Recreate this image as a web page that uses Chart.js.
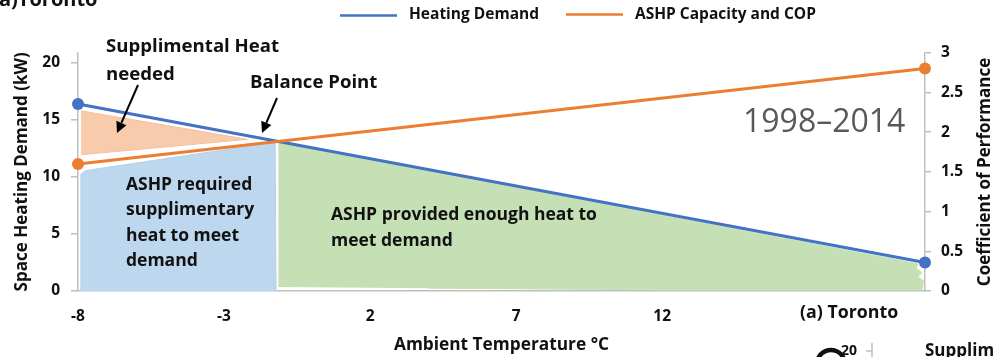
<!DOCTYPE html>
<html>
<head>
<meta charset="utf-8">
<script src="https://cdn.jsdelivr.net/npm/chart.js@4.4.1/dist/chart.umd.min.js"></script>
<style>
  html, body { margin: 0; padding: 0; background: #fff; overflow: hidden; }
  canvas { display: block; }
</style>
</head>
<body>
<canvas id="chart" width="994" height="357"></canvas>
<script>
// Line end points (ambient temperature in °C)
const temperatureEnds = [-8, 21];
const heatingDemand = [16.4, 2.5];   // kW, left axis
const ashpCop = [1.6, 2.8];          // coefficient of performance, right axis
const xTickValues = [-8, -3, 2, 7, 12];
const demandTicks = [0, 5, 10, 15, 20];
const copTicks = [0, 0.5, 1, 1.5, 2, 2.5, 3];

// Shaded zones as [temperature, kW] outlines
const supplementalZone = [[-7.9, 15.8], [-2.2, 13.3], [-7.9, 11.95]];
const requiredZone = [[-7.9, 0], [-7.9, 10.25], [-7.75, 10.55], [-7.5, 10.65], [-1.25, 13.05], [-1.22, 0]];
const providedZone = [[-1.12, 0.35], [-1.12, 13.0], [20.75, 2.4], [20.7, 2.0], [20.9, 1.6],
                      [20.75, 1.25], [20.95, 0.9], [20.9, 0.1], [12, 0.1], [4, 0.25]];

const GREY_AXIS = '#BFBFBF';
const FONT = "'Open Sans', 'DejaVu Sans', sans-serif";

const toPoints = (xs, ys) => xs.map((x, i) => ({ x, y: ys[i] }));
const zonePoints = zone => zone.map(([x, y]) => ({ x, y }));

function zoneDataset(zone, fillColor, edgeColor) {
  return {
    label: '',
    data: zonePoints(zone),
    yAxisID: 'y',
    borderColor: edgeColor,
    borderWidth: 1,
    backgroundColor: fillColor,
    fill: 'shape',
    pointRadius: 0,
    tension: 0,
    order: 5,
    clip: false
  };
}

function drawArrow(ctx, x1, y1, x2, y2) {
  const a = Math.atan2(y2 - y1, x2 - x1);
  const head = 11, half = 5.5;
  const bx = x2 - head * Math.cos(a), by = y2 - head * Math.sin(a);
  ctx.strokeStyle = '#000';
  ctx.fillStyle = '#000';
  ctx.lineWidth = 2;
  ctx.beginPath();
  ctx.moveTo(x1, y1);
  ctx.lineTo(bx, by);
  ctx.stroke();
  ctx.beginPath();
  ctx.moveTo(x2, y2);
  ctx.lineTo(bx + half * Math.sin(a), by - half * Math.cos(a));
  ctx.lineTo(bx - half * Math.sin(a), by + half * Math.cos(a));
  ctx.closePath();
  ctx.fill();
}

// Legend, annotations and the right-hand axis title
const decorations = {
  id: 'decorations',
  afterDraw(chart) {
    const ctx = chart.ctx;
    const ds = chart.data.datasets;
    ctx.save();

    // legend
    ctx.textBaseline = 'middle';
    ctx.textAlign = 'left';
    ctx.font = `bold 15.5px ${FONT}`;
    const legendItems = [
      { d: ds[0], x0: 340, x1: 397, tx: 409, y: 15.5 },
      { d: ds[1], x0: 566, x1: 623, tx: 635, y: 14.5 }
    ];
    legendItems.forEach(it => {
      ctx.strokeStyle = it.d.borderColor;
      ctx.lineWidth = 2.5;
      ctx.beginPath();
      ctx.moveTo(it.x0, it.y);
      ctx.lineTo(it.x1, it.y);
      ctx.stroke();
      ctx.fillStyle = '#111';
      ctx.fillText(it.d.label, it.tx, 15);
    });

    // panel caption at the top-left
    ctx.fillStyle = '#111';
    ctx.font = `bold 20px ${FONT}`;
    ctx.textBaseline = 'alphabetic';
    ctx.fillText('a)Toronto', -1, 6);

    // annotations
    ctx.textBaseline = 'middle';
    ctx.font = `bold 18.6px ${FONT}`;
    ctx.fillText('Supplimental Heat', 106, 47);
    ctx.fillText('needed', 106, 75);
    ctx.fillText('Balance Point', 250, 83);
    drawArrow(ctx, 138, 85, 117, 133);
    drawArrow(ctx, 277, 98, 262, 133);

    ctx.fillStyle = '#111';
    ctx.font = `bold 17.5px ${FONT}`;
    ['ASHP required', 'supplimentary', 'heat to meet', 'demand']
      .forEach((t, i) => ctx.fillText(t, 126, 185 + i * 25.5));
    ctx.fillText('ASHP provided enough heat to', 331, 215);
    ctx.fillText('meet demand', 331, 241);

    ctx.font = `32px ${FONT}`;
    ctx.fillStyle = '#595959';
    ctx.fillText('1998\u20132014', 743, 123);

    ctx.fillStyle = '#111';
    ctx.font = `bold 17.8px ${FONT}`;
    ctx.fillText('(a) Toronto', 800, 313);

    // right axis title, reading upwards
    ctx.save();
    ctx.translate(985, 172);
    ctx.rotate(-Math.PI / 2);
    ctx.textAlign = 'center';
    ctx.font = `bold 17px ${FONT}`;
    ctx.fillText('Coefficient of Performance', 0, 0);
    ctx.restore();

    // top edge of the next panel below
    ctx.font = `bold 14px ${FONT}`;
    ctx.textAlign = 'center';
    ctx.fillText('20', 849, 351);
    ctx.strokeStyle = GREY_AXIS;
    ctx.lineWidth = 1.5;
    ctx.beginPath();
    ctx.moveTo(872, 343); ctx.lineTo(872, 357);
    ctx.moveTo(866, 351); ctx.lineTo(872, 351);
    ctx.stroke();
    ctx.textAlign = 'left';
    ctx.font = `bold 17px ${FONT}`;
    ctx.fillText('Supplimental Heat', 925, 351);
    ctx.strokeStyle = '#111';
    ctx.lineWidth = 4.5;
    ctx.beginPath();
    ctx.arc(831, 364, 14, Math.PI * 1.12, Math.PI * 1.88);
    ctx.stroke();

    ctx.restore();
  }
};

const plainTick = v => String(v);

new Chart(document.getElementById('chart'), {
  type: 'line',
  data: {
    datasets: [
      {
        label: 'Heating Demand',
        data: toPoints(temperatureEnds, heatingDemand),
        yAxisID: 'y',
        borderColor: '#4472C4',
        backgroundColor: '#4472C4',
        borderWidth: 3,
        pointRadius: 6,
        pointBorderWidth: 0,
        fill: false,
        clip: false,
        order: 1
      },
      {
        label: 'ASHP Capacity and COP',
        data: toPoints(temperatureEnds, ashpCop),
        yAxisID: 'y1',
        borderColor: '#ED7D31',
        backgroundColor: '#ED7D31',
        borderWidth: 3,
        pointRadius: 6,
        pointBorderWidth: 0,
        fill: false,
        clip: false,
        order: 0
      },
      zoneDataset(supplementalZone, '#F8CBAD', '#F4BFA0'),
      zoneDataset(requiredZone, '#BDD7EE', '#B4D0EA'),
      zoneDataset(providedZone, '#C5E0B4', '#C5E0B4')
    ]
  },
  options: {
    responsive: false,
    devicePixelRatio: 1,
    animation: false,
    events: [],
    layout: { padding: { top: 52.7, left: 0, right: 0, bottom: 0 } },
    plugins: {
      legend: { display: false },
      tooltip: { enabled: false }
    },
    scales: {
      x: {
        type: 'linear',
        min: temperatureEnds[0],
        max: temperatureEnds[1],
        afterBuildTicks: s => { s.ticks = xTickValues.map(v => ({ value: v })); },
        afterFit: s => { s.height = 66; },
        grid: { display: true, drawOnChartArea: false, drawTicks: false },
        border: { display: true, color: GREY_AXIS, width: 1.5 },
        ticks: {
          padding: 16,
          color: '#111',
          callback: plainTick,
          font: { family: FONT, size: 15.5, weight: 'bold' },
          maxRotation: 0
        },
        title: {
          display: true,
          text: 'Ambient Temperature \u00B0C',
          color: '#111',
          font: { family: FONT, size: 17.3, weight: 'bold' },
          padding: { top: 0, bottom: 2 }
        }
      },
      y: {
        position: 'left',
        min: 0,
        max: 20.9,
        afterBuildTicks: s => { s.ticks = demandTicks.map(v => ({ value: v })); },
        afterFit: s => { s.width = 78; },
        grid: { display: true, drawOnChartArea: false, drawTicks: true, tickLength: 7, color: GREY_AXIS, lineWidth: 1.5 },
        border: { display: true, color: GREY_AXIS, width: 1.5 },
        ticks: {
          padding: 11,
          color: '#111',
          callback: plainTick,
          font: { family: FONT, size: 15.5, weight: 'bold' }
        },
        title: {
          display: true,
          text: 'Space Heating Demand (kW)',
          color: '#111',
          font: { family: FONT, size: 17, weight: 'bold' },
          padding: { top: 12, bottom: 0 }
        }
      },
      y1: {
        position: 'right',
        min: 0,
        max: 3,
        afterBuildTicks: s => { s.ticks = copTicks.map(v => ({ value: v })); },
        afterFit: s => { s.width = 69; },
        grid: { display: true, drawOnChartArea: false, drawTicks: true, tickLength: 6, color: GREY_AXIS, lineWidth: 1.5 },
        border: { display: true, color: GREY_AXIS, width: 1.5 },
        ticks: {
          padding: 10,
          color: '#111',
          callback: plainTick,
          font: { family: FONT, size: 15.5, weight: 'bold' }
        },
        title: { display: false }
      }
    }
  },
  plugins: [decorations]
});
</script>
</body>
</html>
